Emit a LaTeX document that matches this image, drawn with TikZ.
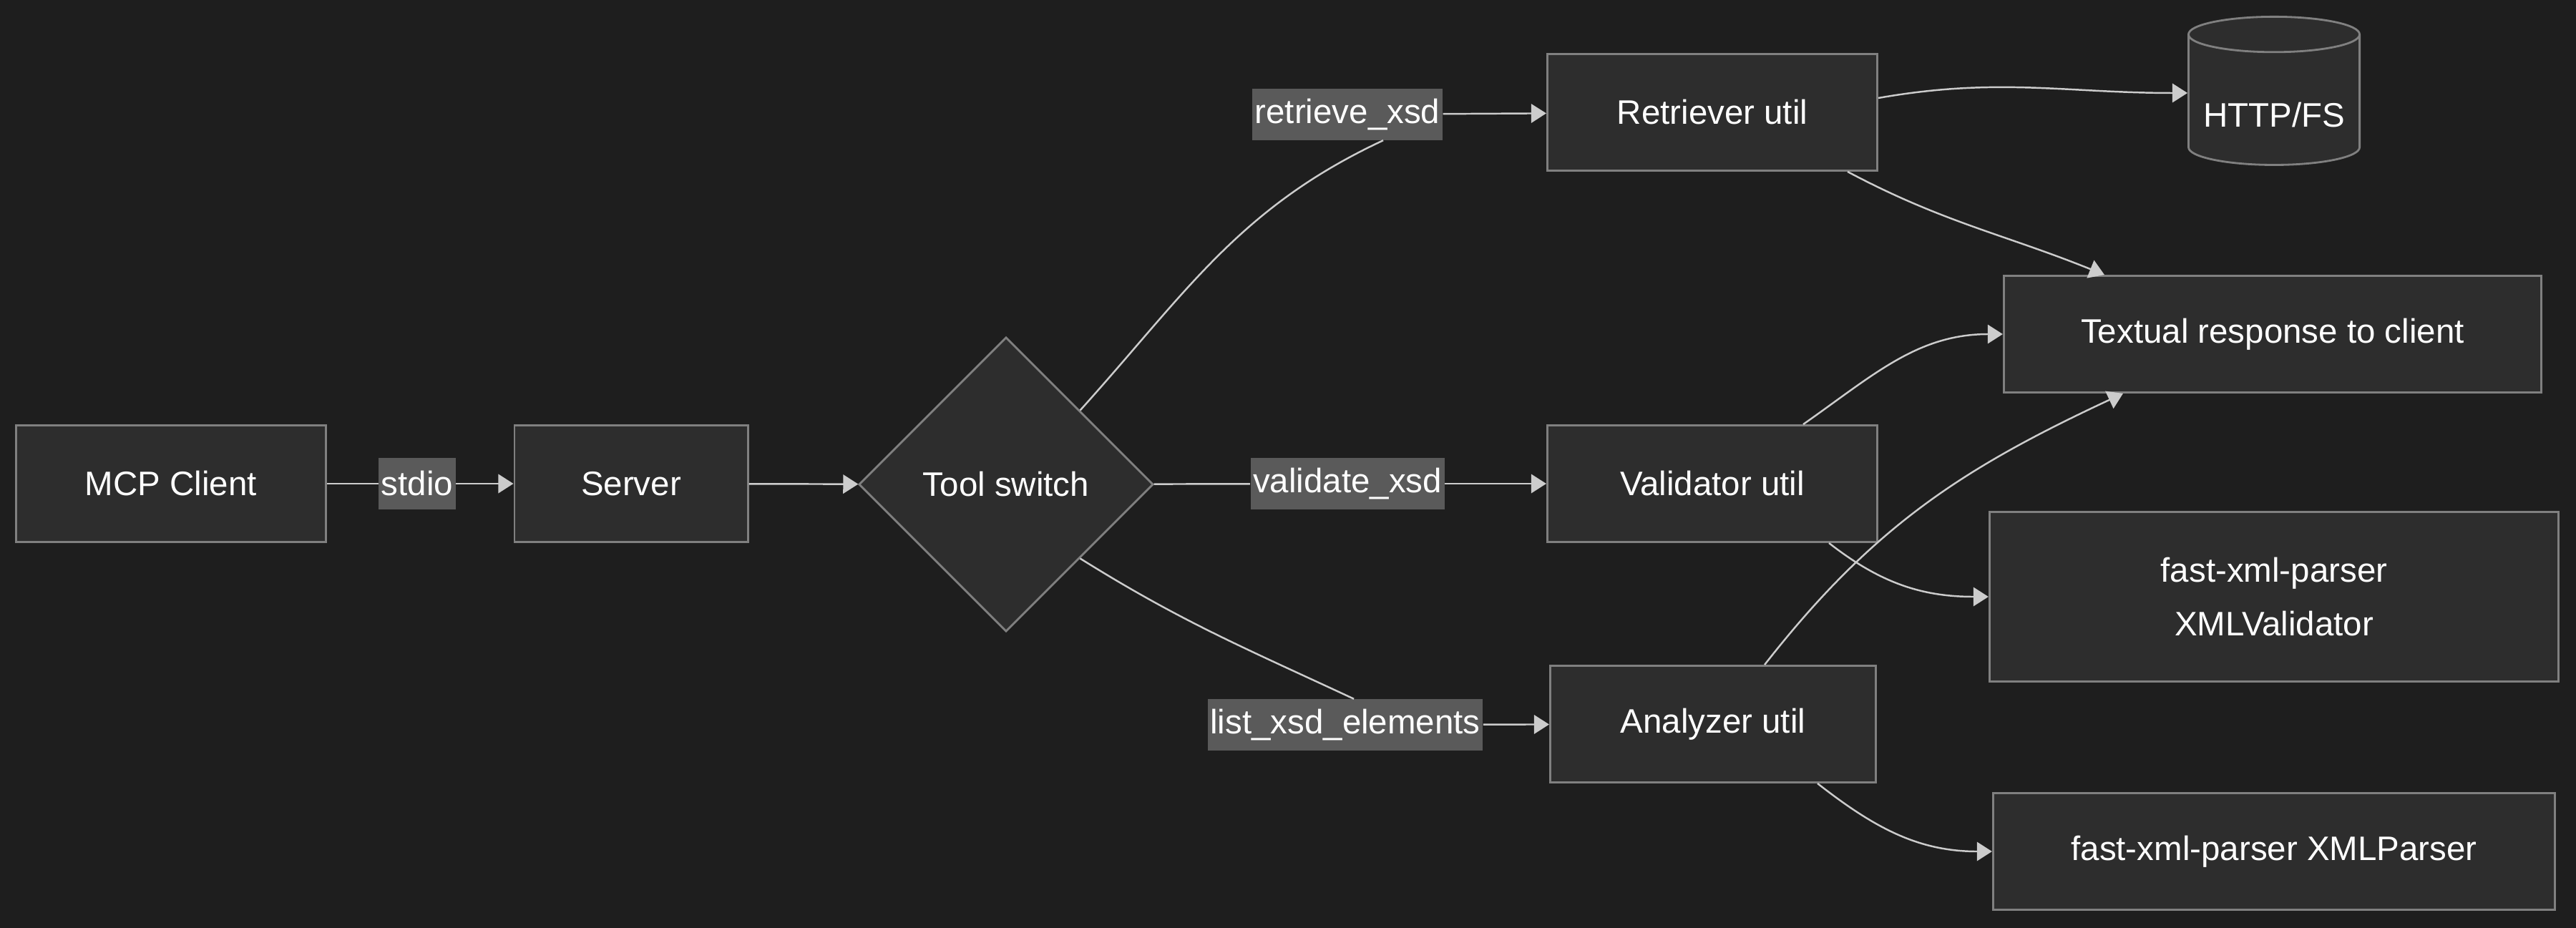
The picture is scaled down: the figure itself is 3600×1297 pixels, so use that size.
\documentclass[tikz,border=0pt]{standalone}
\usepackage{fontspec}
\setmainfont{Liberation Sans}
\usetikzlibrary{positioning}
\usetikzlibrary{shapes.geometric}
\usetikzlibrary{arrows.meta}

\definecolor{bgdark}{RGB}{30,30,30}
\definecolor{nodefill}{RGB}{45,45,45}
\definecolor{bordergray}{RGB}{128,128,128}
\definecolor{labelfill}{RGB}{90,90,90}
\definecolor{edgegray}{RGB}{204,204,204}

\begin{document}
\begin{tikzpicture}[
  x=0.01cm, y=-0.01cm,
  font=\fontsize{13.5}{21.5}\selectfont,
  mynode/.style={draw=bordergray, line width=0.8pt, fill=nodefill, text=white, minimum height=1.63cm, align=center, inner sep=0pt},
  mydiamond/.style={diamond, aspect=1, draw=bordergray, line width=0.8pt, fill=nodefill, text=white, minimum size=4.11cm, inner sep=0pt},
  mycyl/.style={cylinder, shape border rotate=90, aspect=0.25, draw=bordergray, line width=0.8pt, fill=nodefill, text=white, minimum width=2.39cm, minimum height=2.07cm, inner sep=0pt, text height=0.75cm},
  mylabel/.style={fill=labelfill, text=white, minimum height=0.71cm, inner xsep=1pt, inner ysep=0pt},
  myarrow/.style={draw=edgegray, line width=0.7pt, -{Triangle[length=6pt,width=7.5pt]}},
  myline/.style={draw=edgegray, line width=0.7pt}
]

\fill[bgdark] (0,0) rectangle (3600,1297);

\node[mynode, minimum width=4.32cm] (client) at (239,676) {MCP Client};
\node[mynode, minimum width=3.26cm] (server) at (882,676) {Server};
\node[mydiamond] (switch) at (1406,677) {Tool switch};

\node[mynode, minimum width=4.61cm] (retriever) at (2393,157) {Retriever util};
\node[mynode, minimum width=4.61cm] (validator) at (2393,676) {Validator util};
\node[mynode, minimum width=4.55cm] (analyzer) at (2394,1012) {Analyzer util};

\node[mycyl] (http) at (3178,140) {HTTP/FS};
\node[mynode, minimum width=7.51cm] (textual) at (3176,467) {Textual response to client};
\node[mynode, minimum width=7.95cm, minimum height=2.37cm] (xmlvalid) at (3178,834) {fast-xml-parser\\XMLValidator};
\node[mynode, minimum width=7.85cm] (xmlparser) at (3178,1190) {fast-xml-parser XMLParser};

\node[mylabel] (stdio) at (583,676) {stdio};
\node[mylabel] (retrlbl) at (1883,160) {retrieve\_xsd};
\node[mylabel] (validlbl) at (1883,676) {validate\_xsd};
\node[mylabel] (listlbl) at (1880,1013) {list\_xsd\_elements};

\path (client) edge[myline] (stdio)
(stdio) edge[myarrow] (server)
(server) edge[myarrow] (switch)
(switch.north east) edge[myline, out=48, in=205] ([xshift=0.5cm]retrlbl.south)
(retrlbl) edge[myarrow] (retriever)
(switch) edge[myline] (validlbl)
(validlbl) edge[myarrow] (validator)
(switch.south east) edge[myline, out=-32, in=155] ([xshift=0.12cm]listlbl.north)
(listlbl) edge[myarrow] (analyzer)
;

\path ([yshift=0.2cm]retriever.east) edge[myarrow, out=10, in=180] ([yshift=0.1cm]http.west)
([xshift=-0.43cm]retriever.south east) edge[myarrow, out=-28, in=158] ([xshift=1.42cm]textual.north west)
([xshift=-1.05cm]validator.north east) edge[myarrow, out=35, in=180] (textual.west)
([xshift=-0.69cm]validator.south east) edge[myarrow, out=-38, in=180] (xmlvalid.west)
([xshift=0.72cm]analyzer.north) edge[myarrow, out=52, in=205] ([xshift=1.68cm]textual.south west)
([xshift=-0.83cm]analyzer.south east) edge[myarrow, out=-38, in=180] (xmlparser.west)
;

\end{tikzpicture}
\end{document}
